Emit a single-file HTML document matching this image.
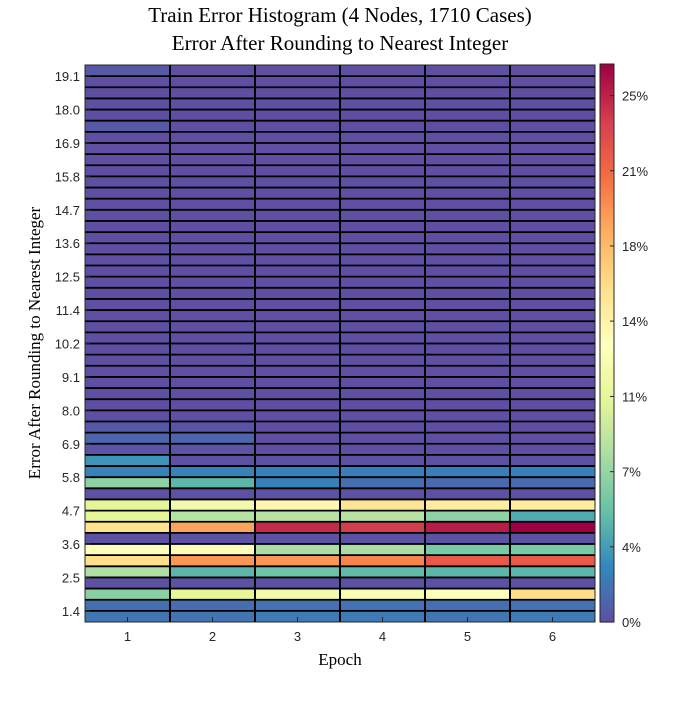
<!DOCTYPE html>
<html><head><meta charset="utf-8"><style>
body{margin:0;background:#fff;width:700px;height:700px;overflow:hidden}
svg text{font-family:"Liberation Sans",sans-serif}
</style></head><body>
<svg id="chart" width="700" height="700" xmlns="http://www.w3.org/2000/svg">
<text x="340" y="22" font-size="21" text-anchor="middle" style="font-family:'Liberation Serif',serif">Train Error Histogram (4 Nodes, 1710 Cases)</text>
<text x="340" y="50" font-size="21" text-anchor="middle" style="font-family:'Liberation Serif',serif">Error After Rounding to Nearest Integer</text>
<text x="340" y="665" font-size="17" text-anchor="middle" style="font-family:'Liberation Serif',serif">Epoch</text>
<text transform="translate(40,343) rotate(-90)" font-size="17" text-anchor="middle" style="font-family:'Liberation Serif',serif">Error After Rounding to Nearest Integer</text>
<g id="cells"></g><g id="grid"></g><g id="axes"></g><g id="cbar"></g>
</svg>
<script>
const epochs=[1,2,3,4,5,6];
const yTickLabels=["1.4","2.5","3.6","4.7","5.8","6.9","8.0","9.1","10.2","11.4","12.5","13.6","14.7","15.8","16.9","18.0","19.1"];
const cbarTicks=[0,4,7,11,14,18,21,25];
const cbarTickValues=[0,3.57,7.14,10.71,14.29,17.86,21.43,25];
const row0=[1.8,1.7,2,2,1.8,2];
const row1=[1.5,1.4,1.6,1.6,1.5,1.6];
const row2=[6.6,10.6,12,12.5,13,16];
const row3=[0.1,0.1,0.1,0.1,0.1,0.1];
const row4=[8.2,4.8,5.5,5,4.8,4.8];
const row5=[15.9,19.5,19.5,20.2,22.3,22.3];
const row6=[13,13.5,8,8,6,6];
const row7=[0.1,0.1,0.1,0.1,0.1,0.1];
const row8=[15.8,19,24.7,23.9,25.3,26.5];
const row9=[10.7,8.5,8.5,8.5,6.8,4.2];
const row10=[10.6,12,14,15.5,14.8,14.8];
const row11=[0.1,0.1,0.1,0.1,0.1,0.1];
const row12=[6.8,4.8,2.3,1.5,1.2,1.2];
const row13=[2.4,2.4,2.3,2.2,2.2,2.3];
const row14=[3.2,0.1,0.1,0.1,0.1,0.1];
const row15=[0.2,0.2,0,0,0,0];
const row16=[1,1,0,0,0,0];
const row17=[0.4,0.2,0,0,0,0];
const row44=[0.4,0,0,0,0,0];
const row49=[0.4,0,0,0,0,0];
const vmax=26.5;
const rows=[row0,row1,row2,row3,row4,row5,row6,row7,row8,row9,row10,row11,row12,row13,row14,row15,row16,row17];
for(let i=18;i<50;i++){rows.push(i===44?row44:i===49?row49:[0,0,0,0,0,0]);}
const NR=rows.length;
const X0=85,X1=595,Y0=65,Y1=622;
const cw=(X1-X0)/epochs.length, rh=(Y1-Y0)/NR;
const xs=i=>X0+i*cw, ys=r=>Y1-r*rh;
const stops=["#5e4fa2","#3288bd","#66c2a5","#abdda4","#e6f598","#ffffbf","#fee08b","#fdae61","#f46d43","#d53e4f","#9e0142"];
function hx(h){return [1,3,5].map(i=>parseInt(h.substr(i,2),16));}
function cmap(v){let t=Math.max(0,Math.min(1,v/vmax))*10;let i=Math.min(9,Math.floor(t)),f=t-i;
 const a=hx(stops[i]),b=hx(stops[i+1]);return "rgb("+a.map((c,k)=>Math.round(c+(b[k]-c)*f)).join(",")+")";}
const NS="http://www.w3.org/2000/svg";
function mk(t,at,p){const e=document.createElementNS(NS,t);for(const k in at)e.setAttribute(k,at[k]);p.appendChild(e);return e;}
const cells=document.getElementById('cells'),grid=document.getElementById('grid'),axes=document.getElementById('axes'),cb=document.getElementById('cbar');
rows.forEach((row,r)=>row.forEach((v,c)=>{
 const e=mk('rect',{x:xs(c),y:ys(r+1),width:cw,height:rh,fill:cmap(v)},cells);
 
 
}));
for(let r=1;r<NR;r++){const l=mk('line',{x1:X0,x2:X1,y1:ys(r),y2:ys(r),stroke:'#000','stroke-width':1.8},grid);
 
 }
for(let c=1;c<epochs.length;c++){const l=mk('line',{x1:xs(c),x2:xs(c),y1:Y0,y2:Y1,stroke:'#000','stroke-width':2},grid);
 
 }
const fr=mk('rect',{x:X0,y:Y0,width:X1-X0,height:Y1-Y0,fill:'none',stroke:'#262626','stroke-width':1},axes);


epochs.forEach((e,i)=>{const cx=xs(i)+cw/2;
 mk('line',{x1:cx,x2:cx,y1:Y1,y2:Y1-5,stroke:'#262626'},axes);
 const t=mk('text',{x:cx,y:Y1+19,'font-size':13,'text-anchor':'middle',fill:'#262626'},axes);t.textContent=e;
 
 });
yTickLabels.forEach((lab,k)=>{const y=ys(1+3*k);
 mk('line',{x1:X0,x2:X0+5,y1:y,y2:y,stroke:'#262626'},axes);
 const t=mk('text',{x:X0-5,y:y+5,'font-size':13,'text-anchor':'end',fill:'#262626'},axes);t.textContent=lab;
 
 });
const CX=600,CW=14,cby=v=>Y1-(v/vmax)*(Y1-Y0+1);
for(let i=0;i<200;i++){const v0=vmax*i/200,v1=vmax*(i+1)/200;
 const e=mk('rect',{x:CX,y:cby(v1),width:CW,height:cby(v0)-cby(v1)+0.6,fill:cmap((v0+v1)/2)},cb);
 
 }
const cf=mk('rect',{x:CX,y:cby(vmax),width:CW,height:cby(0)-cby(vmax),fill:'none',stroke:'#262626','stroke-width':1},cb);


cbarTicks.forEach((lab,k)=>{const y=cby(cbarTickValues[k]);
 mk('line',{x1:CX+CW-4,x2:CX+CW,y1:y,y2:y,stroke:'#262626'},cb);
 const t=mk('text',{x:CX+CW+8,y:y+5,'font-size':13,fill:'#262626'},cb);t.textContent=lab+'%';
 
 });
</script>
</body></html>
